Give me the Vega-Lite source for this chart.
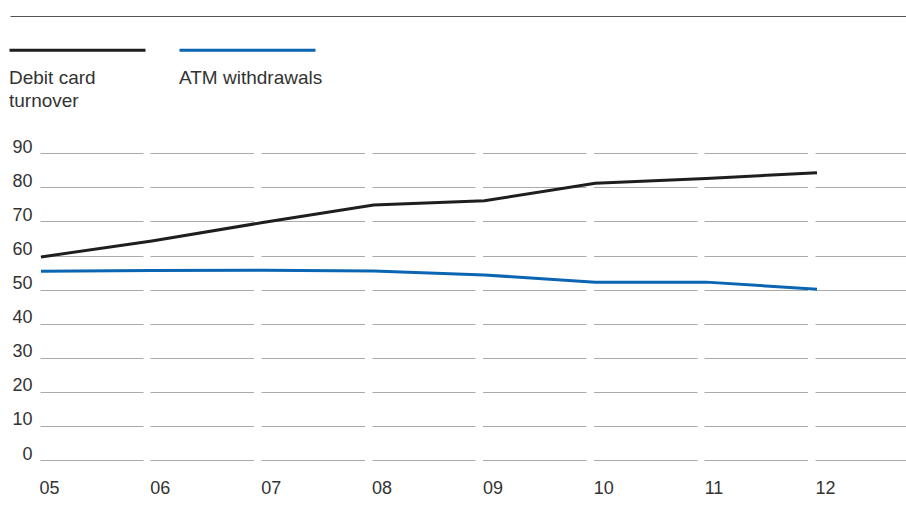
{
  "$schema": "https://vega.github.io/schema/vega-lite/v6.json",
  "width": 896,
  "height": 444,
  "autosize": {"type": "none"},
  "padding": {"left": 10, "top": 16, "right": 0, "bottom": 59},
  "config": {
    "view": {"stroke": null},
    "font": "Liberation Sans"
  },
  "data": {
    "values": [
      {"series": "Debit card turnover", "year": 5, "value": 59.6},
      {"series": "Debit card turnover", "year": 6, "value": 64.3},
      {"series": "Debit card turnover", "year": 7, "value": 69.7},
      {"series": "Debit card turnover", "year": 8, "value": 74.8},
      {"series": "Debit card turnover", "year": 9, "value": 76.1},
      {"series": "Debit card turnover", "year": 10, "value": 81.2},
      {"series": "Debit card turnover", "year": 11, "value": 82.6},
      {"series": "Debit card turnover", "year": 12, "value": 84.3},
      {"series": "ATM withdrawals", "year": 5, "value": 55.4},
      {"series": "ATM withdrawals", "year": 6, "value": 55.6},
      {"series": "ATM withdrawals", "year": 7, "value": 55.7},
      {"series": "ATM withdrawals", "year": 8, "value": 55.5},
      {"series": "ATM withdrawals", "year": 9, "value": 54.3},
      {"series": "ATM withdrawals", "year": 10, "value": 52.2},
      {"series": "ATM withdrawals", "year": 11, "value": 52.2},
      {"series": "ATM withdrawals", "year": 12, "value": 50.1}
    ]
  },
  "mark": {"type": "line", "strokeWidth": 3, "strokeCap": "butt"},
  "encoding": {
    "x": {
      "field": "year",
      "type": "quantitative",
      "scale": {"domain": [4.7204, 12.8029], "nice": false, "zero": false},
      "axis": {
        "orient": "top",
        "title": null,
        "values": [5, 6, 7, 8, 9, 10, 11, 12],
        "format": "02d",
        "domain": true,
        "domainColor": "#555555",
        "domainWidth": 1,
        "ticks": false,
        "tickSize": 0,
        "grid": false,
        "labelAlign": "left",
        "labelBaseline": "alphabetic",
        "labelPadding": -477,
        "labelOffset": -2,
        "labelFontSize": 18,
        "labelColor": "#333333",
        "labelFlush": false,
        "labelOverlap": false
      }
    },
    "y": {
      "field": "value",
      "type": "quantitative",
      "scale": {"domain": [0, 130.3], "nice": false, "zero": true},
      "axis": {
        "title": null,
        "values": [0, 10, 20, 30, 40, 50, 60, 70, 80, 90],
        "domain": false,
        "ticks": false,
        "tickSize": 0,
        "grid": true,
        "gridColor": "#aaaaaa",
        "gridWidth": 1,
        "gridDash": [0, 30, 103, 7, 103.5, 7.5, 103.5, 7.5, 103, 7.5, 103.5, 7.5, 103.5, 7, 103.5, 7.5, 200],
        "labelAlign": "right",
        "labelBaseline": "alphabetic",
        "labelPadding": -22,
        "labelOffset": -1,
        "labelFontSize": 18,
        "labelColor": "#333333",
        "labelFlush": false,
        "labelOverlap": false
      }
    },
    "color": {
      "field": "series",
      "type": "nominal",
      "scale": {
        "domain": ["Debit card turnover", "ATM withdrawals"],
        "range": ["#1e1e1e", "#0a66b2"]
      },
      "legend": {
        "orient": "none",
        "legendX": 0,
        "legendY": -35.5,
        "direction": "horizontal",
        "title": null,
        "padding": 0,
        "symbolType": "stroke",
        "symbolSize": 18496,
        "symbolStrokeWidth": 3,
        "symbolOffset": -2,
        "columnPadding": 21,
        "labelOffset": -138,
        "labelBaseline": "top",
        "labelFontSize": 19,
        "labelColor": "#333333",
        "labelLimit": 0,
        "labelExpr": "datum.label == 'Debit card turnover' ? ['Debit card', 'turnover'] : [datum.label, '']",
        "encode": {
          "labels": {"update": {"dy": {"value": 18.5}, "lineHeight": {"value": 23.4}}}
        }
      }
    }
  }
}
